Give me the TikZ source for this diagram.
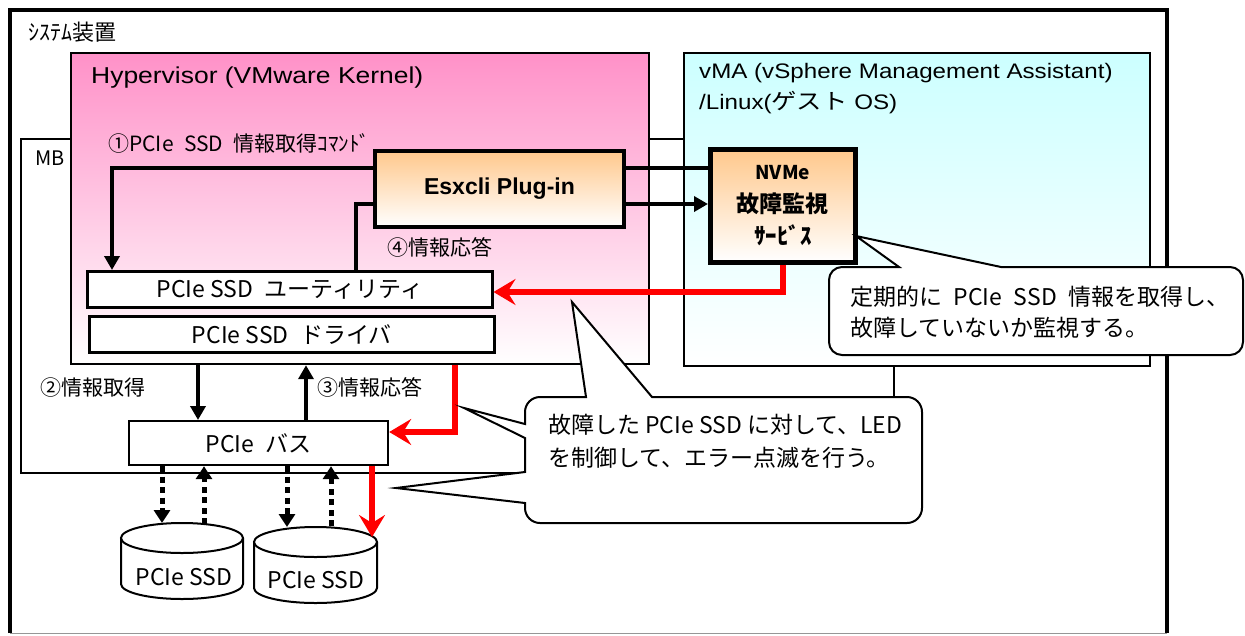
\documentclass[tikz,border=0pt]{standalone}
\usepackage{fontspec}
\usepackage{graphicx}
\setmainfont{Liberation Sans}
\newfontfamily\jp{Noto Sans CJK JP}
\usetikzlibrary{arrows.meta}
\definecolor{hpink}{RGB}{255,145,200}
\definecolor{vcyan}{RGB}{204,255,255}
\definecolor{orng}{RGB}{255,200,140}
\definecolor{gline}{RGB}{150,150,150}
\definecolor{rline}{RGB}{255,0,0}
\newcommand{\hsp}{\hspace{0.5em}}
\begin{document}
\begin{tikzpicture}[x=1pt,y=-1pt,
  txt/.style={inner sep=0pt, anchor=west},
  frame/.style={draw=black, anchor=north west, inner sep=0pt},
  blk/.style={line width=4.5pt, draw=black},
  blkarrow/.style={blk, -{Triangle[length=14pt,width=15pt]}},
  dotarrow/.style={line width=5pt, draw=black, dash pattern=on 6pt off 4.5pt, -{Triangle[length=13pt,width=16pt]}},
  redarrow/.style={line width=5.5pt, draw=rline, -{Stealth[length=22pt,width=26pt,inset=8pt]}},
  callout/.style={draw=black, line width=2pt, fill=white},
  cylline/.style={draw=black, line width=2pt},
  jp21/.style={font=\jp\fontsize{21}{21}\selectfont},
  jp23/.style={font=\jp\fontsize{23}{23}\selectfont}
]
\useasboundingbox (0,0) rectangle (1245,635);

% outer frame
\draw[line width=1pt, gline] (10,633) -- (1167,633);
\draw[line width=3.4pt] (10,633) -- (10,10) -- (1167,10) -- (1167,633);

% MB
\node[frame, line width=2pt, fill=white, minimum width=873pt, minimum height=334pt] (mb) at (20,138) {};

% Hypervisor and vMA
\node[frame, line width=2.2pt, top color=hpink, bottom color=white, minimum width=578pt, minimum height=311pt] (hyp) at (70,52) {};
\node[frame, line width=2.2pt, top color=vcyan, bottom color=white, minimum width=466pt, minimum height=313pt] (vma) at (683,52) {};

% boxes
\node[frame, line width=4pt, top color=orng, bottom color=white, minimum width=249pt, minimum height=76pt,
  font=\bfseries\fontsize{23}{23}\selectfont] (esx) at (373,149) {Esxcli Plug-in};
\node[frame, line width=4.5pt, top color=orng, bottom color=white, minimum width=145pt, minimum height=113pt,
  align=center, font=\jp\bfseries\fontsize{23}{32.5}\selectfont] (nvme) at (708,147)
  {{\fontsize{19}{19}\selectfont NVMe}\\故障監視\\ｻｰﾋﾞｽ};
\node[frame, line width=2.5pt, fill=white, minimum width=405pt, minimum height=36pt, jp23] (util) at (86,270) {PCIe SSD\hsp ユーティリティ};
\node[frame, line width=2.5pt, fill=white, minimum width=405pt, minimum height=36pt, jp23] (drv) at (88,315) {PCIe SSD\hsp ドライバ};
\node[frame, line width=2.2pt, fill=white, minimum width=259pt, minimum height=44pt, jp23] (bus) at (128,420) {PCIe\hsp バス};

% cylinders
\fill[white] (121,538) -- (121,584) arc[start angle=180,end angle=0,x radius=61,y radius=15] -- (243,538) -- cycle;
\draw[cylline] (121,538) -- (121,584) arc[start angle=180,end angle=0,x radius=61,y radius=15] -- (243,538);
\draw[cylline, fill=white] (182,538) ellipse [x radius=61, y radius=15];
\fill[white] (254,542) -- (254,588) arc[start angle=180,end angle=0,x radius=61.5,y radius=15] -- (377,542) -- cycle;
\draw[cylline] (254,542) -- (254,588) arc[start angle=180,end angle=0,x radius=61.5,y radius=15] -- (377,542);
\draw[cylline, fill=white] (315.5,542) ellipse [x radius=61.5, y radius=15];
\node[jp23, inner sep=0pt] (ssd1) at (184,577) {PCIe SSD};
\node[jp23, inner sep=0pt] (ssd2) at (316,580) {PCIe SSD};

% connectors
\coordinate (c1) at (112,168);
\coordinate (c4) at (356,204);
\coordinate (cr) at (780,292);
\coordinate (c2) at (198,390);
\coordinate (c3) at (306,390);
\coordinate (cr2) at (455,432);
\coordinate (d1) at (162,523);
\coordinate (d2) at (204,524);
\coordinate (d3) at (287,527);
\coordinate (d4) at (331,526);
\coordinate (d5) at (372,537);

\draw[blk] (nvme.west |- c1) -- (esx.east |- c1);
\draw[blkarrow] (esx.west |- c1) -- (c1) -- (util.north -| c1);
\draw[blk] (util.north -| c4) -- (c4) -- (esx.west |- c4);
\draw[blkarrow] (esx.east |- c4) -- (nvme.west |- c4);
\draw[redarrow] (nvme.south) -- (nvme.south |- cr) -- (util.east |- cr);
\draw[blkarrow] (hyp.south -| c2) -- (bus.north -| c2);
\draw[blkarrow] (bus.north -| c3) -- (hyp.south -| c3);
\draw[redarrow] (hyp.south -| cr2) -- (cr2) -- (bus.east |- cr2);
\draw[dotarrow] (bus.south -| d1) -- (d1);
\draw[dotarrow] (d2) -- (bus.south -| d2);
\draw[dotarrow] (bus.south -| d3) -- (d3);
\draw[dotarrow] (d4) -- (bus.south -| d4);
\draw[redarrow] (bus.south -| d5) -- (d5);

% callouts
\draw[callout] (829,280) arc[start angle=180,end angle=270,radius=13] -- (899,267) -- (856,236) -- (1001,267)
  -- (1230,267) arc[start angle=270,end angle=360,radius=13] -- (1243,342)
  arc[start angle=0,end angle=90,radius=13] -- (842,355) arc[start angle=90,end angle=180,radius=13] -- cycle;
\draw[callout] (525,412) arc[start angle=180,end angle=270,radius=15] -- (586,397) -- (572,302) -- (652,397)
  -- (907,397) arc[start angle=270,end angle=360,radius=15] -- (922,508)
  arc[start angle=0,end angle=90,radius=15] -- (540,523) arc[start angle=90,end angle=180,radius=15]
  -- (525,503) -- (396,488) -- (525,472) -- (525,438) -- (464,408) -- (525,424) -- cycle;

% texts
\node[txt, font=\jp\fontsize{22}{22}\selectfont] (tsys) at (28,32) {ｼｽﾃﾑ装置};
\node[txt, font=\jp\fontsize{20}{20}\selectfont] (tmb) at (35,158) {MB};
\node[txt, font=\fontsize{23}{23}\selectfont] (thyp) at (91,78) {\scalebox{1.15}[1]{Hypervisor (VMware Kernel)}};
\node[txt, font=\fontsize{21}{21}\selectfont] (tvma1) at (699,73) {\scalebox{1.15}[1]{vMA (vSphere Management Assistant)}};
\node[txt, font=\fontsize{21}{21}\selectfont] (tvma2) at (699,103) {\scalebox{1.15}[1]{/Linux({\jp\fontsize{22}{22}\selectfont ゲスト} OS)}};
\node[txt, jp21] (t1) at (108,143) {①PCIe\hsp SSD\hsp 情報取得ｺﾏﾝﾄﾞ};
\node[txt, jp21] (t4) at (387,247) {④情報応答};
\node[txt, jp21] (t2) at (40,388) {②情報取得};
\node[txt, jp21] (t3) at (317,387) {③情報応答};
\node[txt, align=left, font=\jp\fontsize{23}{31}\selectfont] (tc1) at (850,312) {定期的に\hsp PCIe\hsp SSD\hsp 情報を取得し、\\故障していないか監視する。};
\node[txt, align=left, font=\jp\fontsize{23}{33}\selectfont] (tc2) at (548,441) {故障した PCIe SSD に対して、LED\\を制御して、エラー点滅を行う。};
\end{tikzpicture}
\end{document}
